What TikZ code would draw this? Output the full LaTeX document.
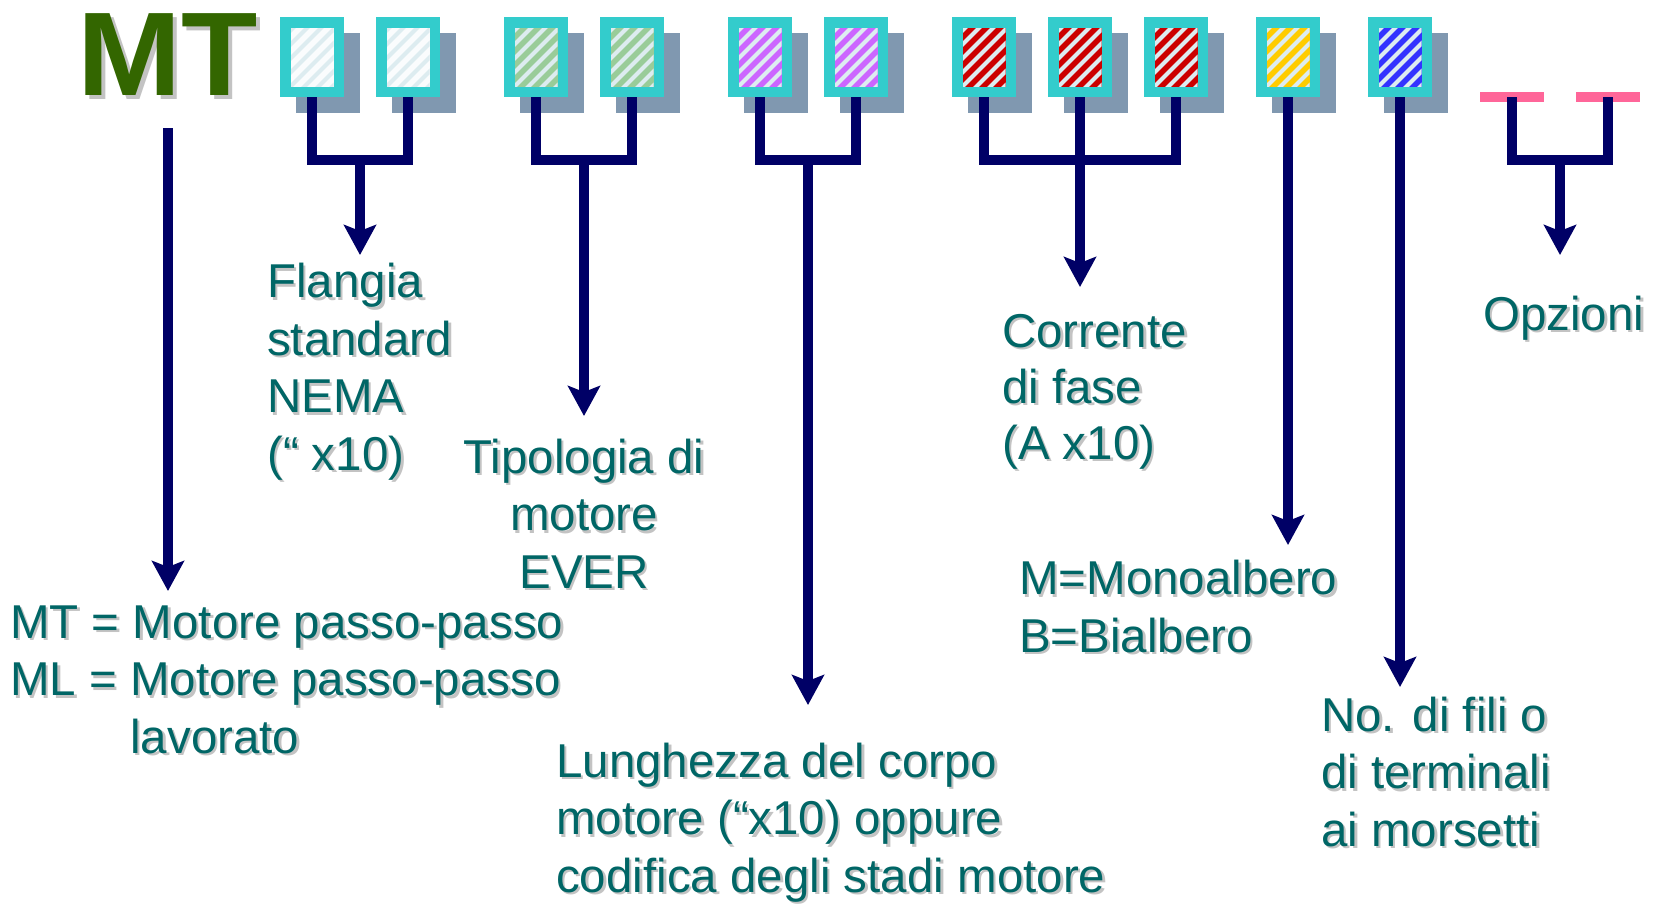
\documentclass[tikz,border=0pt]{standalone}
\usepackage{fontspec}
\setmainfont{Liberation Sans}
\newfontfamily\mtfont{Liberation Sans}[FakeStretch=1.05]
\usetikzlibrary{arrows.meta,backgrounds,calc}
\definecolor{txt}{RGB}{0,102,102}
\definecolor{navy}{RGB}{0,0,102}
\definecolor{cyanb}{RGB}{51,204,204}
\definecolor{shd}{RGB}{128,152,176}
\definecolor{stripec}{RGB}{221,236,240}
\definecolor{mtgreen}{RGB}{51,102,0}
\definecolor{pinkbar}{RGB}{255,102,153}
\definecolor{cwhite}{RGB}{250,252,253}
\definecolor{cgreen}{RGB}{153,204,153}
\definecolor{cpurple}{RGB}{204,102,255}
\definecolor{cred}{RGB}{204,0,0}
\definecolor{cyellow}{RGB}{255,204,0}
\definecolor{cblue}{RGB}{51,51,255}
\definecolor{tshadow}{RGB}{195,195,195}
\newcommand\shx[2]{\makebox[0pt][l]{\hspace{#1}\raisebox{-#1}{\textcolor{tshadow}{#2}}}#2}
\newcommand\sh[1]{\shx{2.5pt}{#1}}
\tikzset{
  codebox/.style={draw=cyanb, line width=10.5pt, fill=#1,
    minimum width=53.5pt, minimum height=69.5pt, inner sep=0pt, outer sep=5.25pt,
    path picture={
      \clip ($(path picture bounding box.south west)+(5.25,-5.25)$) rectangle
            ($(path picture bounding box.north east)+(-5.25,5.25)$);
      \foreach \k in {-84,-70,...,70}{
        \draw[stripec, line width=4pt] ($(path picture bounding box.south west)+(\k,0)$) -- ++(95,-95);}
    }},
  optbar/.style={fill=pinkbar, minimum width=64pt, minimum height=10pt, inner sep=0pt, outer sep=0pt},
  conn/.style={draw=navy, line width=10.5pt},
  arr/.style={conn, -{Stealth[length=30pt,width=32pt,inset=6pt]}},
  lbl/.style={text=txt, inner sep=0pt, font=\fontsize{47.5}{57.5}\selectfont, align=left, anchor=base west},
}
\begin{document}
\begin{tikzpicture}[x=1pt,y=-1pt]
\useasboundingbox (0,0) rectangle (1662,903);
% code boxes
\node[codebox=cwhite]   (b1)  at (312,57) {};
\node[codebox=cwhite]   (b2)  at (408,57) {};
\node[codebox=cgreen]   (b3)  at (536,57) {};
\node[codebox=cgreen]   (b4)  at (632,57) {};
\node[codebox=cpurple]  (b5)  at (760,57) {};
\node[codebox=cpurple]  (b6)  at (856,57) {};
\node[codebox=cred]     (b7)  at (984,57) {};
\node[codebox=cred]     (b8)  at (1080,57) {};
\node[codebox=cred]     (b9)  at (1176,57) {};
\node[codebox=cyellow]  (b10) at (1288,57) {};
\node[codebox=cblue]    (b11) at (1400,57) {};
\node[optbar] (o1) at (1512,97) {};
\node[optbar] (o2) at (1608,97) {};
\begin{scope}[on background layer]
  \fill[white] (0,0) rectangle (1662,903);
  \foreach \i in {1,...,11}
    \fill[shd] ([shift={(16,16)}]b\i.south west) rectangle ([shift={(16,16)}]b\i.north east);
\end{scope}
% MT logo
\node[inner sep=0pt, anchor=base west, text=mtgreen, font=\mtfont\bfseries\fontsize{119}{119}\selectfont] (mt) at (77,95) {\shx{4pt}{MT}};
% junctions and arrow tips
\coordinate (j1) at (360,160);
\coordinate (j2) at (584,160);
\coordinate (j3) at (808,160);
\coordinate (j4) at (1080,160);
\coordinate (j7) at (1560,160);
\coordinate (tmt) at (168,591);
\coordinate (t1) at (360,255);
\coordinate (t2) at (584,416);
\coordinate (t3) at (808,705);
\coordinate (t4) at (1080,287);
\coordinate (t5) at (1288,545);
\coordinate (t6) at (1400,687);
\coordinate (t7) at (1560,255);
% connectors
\draw[arr] (mt.base -| tmt) ++(0,33) -- (tmt);
\draw[conn] (b1.south) |- (j1) -| (b2.south);
\draw[arr] (j1) -- (t1);
\draw[conn] (b3.south) |- (j2) -| (b4.south);
\draw[arr] (j2) -- (t2);
\draw[conn] (b5.south) |- (j3) -| (b6.south);
\draw[arr] (j3) -- (t3);
\draw[conn] (b7.south) |- (j4) -| (b9.south);
\draw[arr] (b8.south) -- (t4);
\draw[arr] (b10.south) -- (t5);
\draw[arr] (b11.south) -- (t6);
\draw[conn] (o1.center) |- (j7) -| (o2.center);
\draw[arr] (j7) -- (t7);
% labels (base anchor = baseline of the last line)
\node[lbl] (lmt) at (10,753) {\sh{MT = Motore passo-passo}\\\sh{ML = Motore passo-passo}\\\sh{\phantom{ML = }lavorato}};
\node[lbl] (lfl) at (267,470) {\sh{Flangia}\\\sh{standard}\\\sh{NEMA}\\\sh{(“ x10)}};
\node[lbl, align=center, anchor=base] (lti) at (584,588) {\sh{Tipologia di}\\\sh{motore}\\\sh{EVER}};
\node[lbl] (llu) at (556,892) {\sh{Lunghezza del corpo}\\\sh{motore (“x10) oppure}\\\sh{codifica degli stadi motore}};
\node[lbl, font=\fontsize{47.5}{56}\selectfont] (lco) at (1002,459) {\sh{Corrente}\\\sh{di fase}\\\sh{(A x10)}};
\node[lbl] (lmo) at (1019,652) {\sh{M=Monoalbero}\\\sh{B=Bialbero}};
\node[lbl] (lno) at (1321,846) {\sh{No. di fili o}\\\sh{di terminali}\\\sh{ai morsetti}};
\node[lbl] (lop) at (1483,330) {\sh{Opzioni}};
\end{tikzpicture}
\end{document}
